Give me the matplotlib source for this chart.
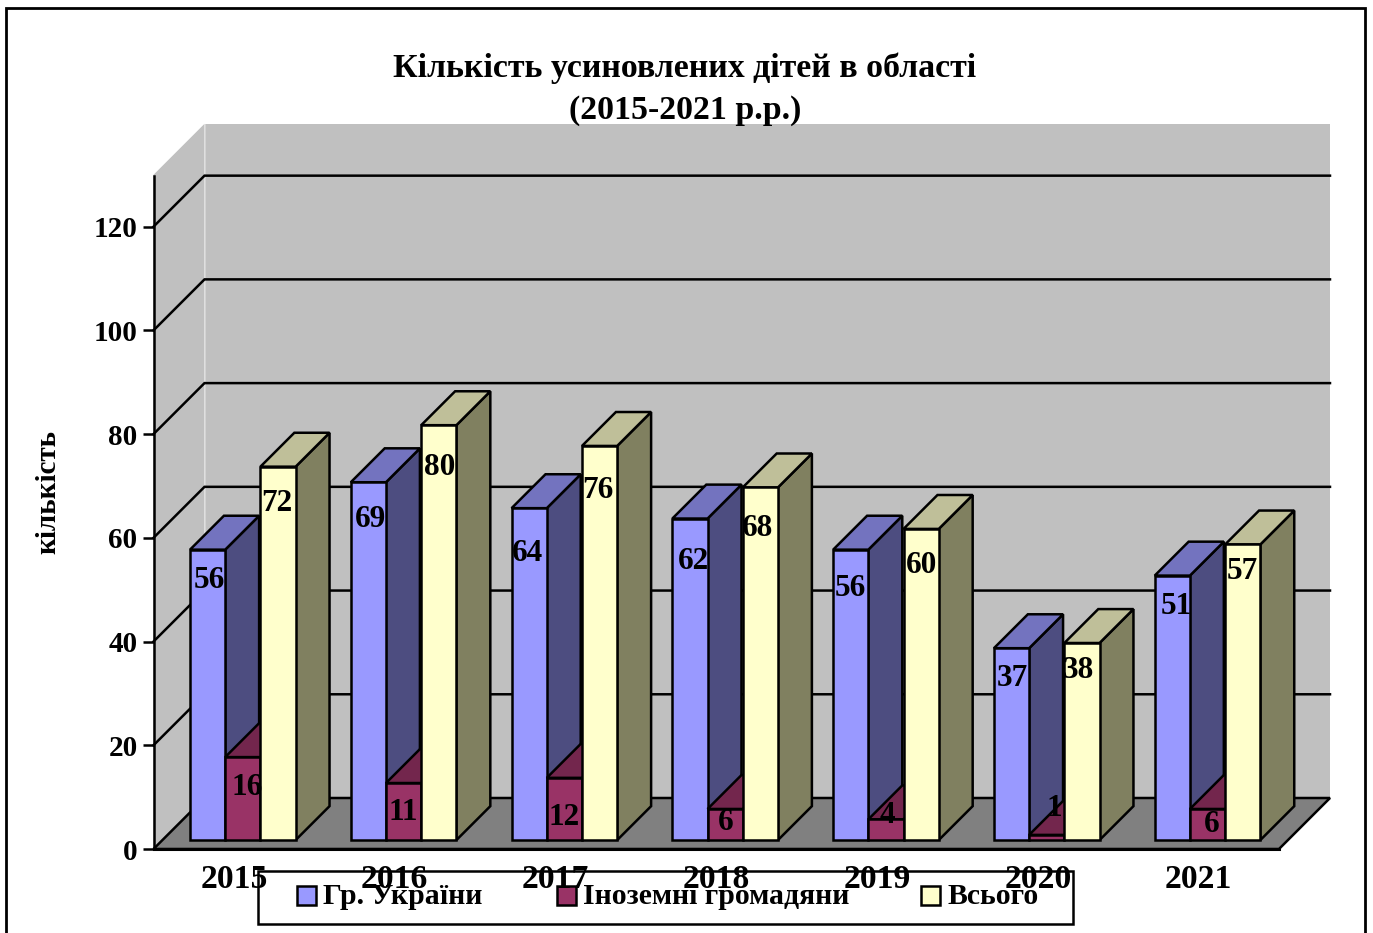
import matplotlib
matplotlib.use('Agg')
import matplotlib.pyplot as plt
from matplotlib.patches import Polygon, Rectangle

plt.rcParams['font.family'] = ['Liberation Serif', 'DejaVu Serif']
plt.rcParams['font.weight'] = 'bold'

W, H = 1373, 933

years = ['2015', '2016', '2017', '2018', '2019', '2020', '2021']
citizens = [56, 69, 64, 62, 56, 37, 51]
foreign = [16, 11, 12, 6, 4, 1, 6]
total = [72, 80, 76, 68, 60, 38, 57]
series_names = ['Гр. України', 'Іноземні громадяни', 'Всього']
y_ticks = [0, 20, 40, 60, 80, 100, 120]

# front, side, top colours of each series
face_colors = ['#9999FF', '#993366', '#FFFFCC']
side_colors = ['#4D4D80', '#73264D', '#808060']
top_colors = ['#7373BF', '#73264D', '#BFBF99']

# label offsets in pixels from the top middle of each bar front (right, down)
label_dx = [[2, 2, -2, 4, 0, 1, 4], [4, 0, 0, 1, 1, 8, 4], [-1, 1, -2, -3, 0, -4, 0]]
label_dy = [[31, 37, 45, 43, 39, 30, 31], [30, 29, 40, 14, -4, -26, 16], [37, 42, 45, 41, 37, 27, 27]]

fig = plt.figure(figsize=(W / 100, H / 100), dpi=100)
left, right, bottom, top = 153.5, 1279, 849, 174.8
ax = fig.add_axes([left / W, 1 - bottom / H, (right - left) / W, (bottom - top) / H])
ax.set_xlim(0, len(years))
ax.set_ylim(0, 130)
ax.patch.set_visible(False)

cat_px = (right - left) / len(years)
val_px = (bottom - top) / 130
depth_x = 51 / cat_px
depth_y = 51 / val_px
bar_w = 35.2 / cat_px
d0, d1 = 0.175, 0.84
line_w = 1.8


def pt(x, y, d):
    # front plane coordinates pushed back by the depth fraction d
    return (x + d * depth_x, y + d * depth_y)


def poly(points, color, edge='black', lw=line_w, z=2):
    ax.add_patch(Polygon(points, closed=True, facecolor=color, edgecolor=edge,
                         linewidth=lw, zorder=z, clip_on=False, joinstyle='miter'))


xmax = len(years)
# walls and floor
poly([pt(0, 0, 1), pt(xmax, 0, 1), pt(xmax, 130, 1), pt(0, 130, 1)], '#C0C0C0', edge='none', z=1)
poly([pt(0, 0, 0), pt(0, 0, 1), pt(0, 130, 1), pt(0, 130, 0)], '#C0C0C0', edge='none', z=1)
ax.plot([pt(0, 0, 1)[0]] * 2, [pt(0, 0, 1)[1], pt(0, 130, 1)[1]], color='#D4D4D4', lw=0.7, zorder=1, clip_on=False)
poly([pt(0, 0, 0), pt(xmax, 0, 0), pt(xmax, 0, 1), pt(0, 0, 1)], '#808080', z=1.2)

for v in y_ticks[1:]:
    xs, ys = zip(pt(0, v, 0), pt(0, v, 1), pt(xmax, v, 1))
    ax.plot(xs, ys, color='black', lw=line_w, zorder=1.1, clip_on=False, solid_joinstyle='miter')
ax.plot([0, 0], [0, pt(0, 120, 1)[1]], color='black', lw=line_w, zorder=1.3, clip_on=False)

# bars, left to right so each front hides the side of the previous one
all_series = [citizens, foreign, total]
for i in range(len(years)):
    start = i + 0.5 - 1.5 * bar_w
    for s, values in enumerate(all_series):
        v = values[i]
        x0 = start + s * bar_w
        x1 = x0 + bar_w
        poly([pt(x1, 0, d0), pt(x1, 0, d1), pt(x1, v, d1), pt(x1, v, d0)], side_colors[s])
        poly([pt(x0, v, d0), pt(x1, v, d0), pt(x1, v, d1), pt(x0, v, d1)], top_colors[s])
        poly([pt(x0, 0, d0), pt(x1, 0, d0), pt(x1, v, d0), pt(x0, v, d0)], face_colors[s])

for i in range(len(years)):
    start = i + 0.5 - 1.5 * bar_w
    for s, values in enumerate(all_series):
        xc = start + (s + 0.5) * bar_w
        ax.annotate(str(values[i]), xy=pt(xc, values[i], d0),
                    xytext=(label_dx[s][i] * 0.72, -label_dy[s][i] * 0.72),
                    textcoords='offset points', ha='center', va='center',
                    fontsize=22.5, fontweight='bold', zorder=5, annotation_clip=False)

for side in ['top', 'right', 'left']:
    ax.spines[side].set_visible(False)
ax.spines['bottom'].set_linewidth(2.2)
ax.spines['bottom'].set_zorder(3)

ax.set_yticks(y_ticks)
ax.set_yticklabels([str(v) for v in y_ticks])
ax.tick_params(axis='y', length=8, width=1.8, pad=3.5, labelsize=21)
ax.set_xticks([i + 0.5 for i in range(len(years))])
ax.set_xticklabels(years)
ax.tick_params(axis='x', length=0, pad=10.7, labelsize=24.2)

fig.text(48 / W, 1 - 492 / H, 'кількість', rotation=90, ha='center', va='center',
         fontsize=21, fontweight='bold')
fig.text(685 / W, 1 - 68 / H, 'Кількість усиновлених дітей в області', ha='center', va='center',
         fontsize=24.4, fontweight='bold')
fig.text(685 / W, 1 - 111 / H, '(2015-2021 р.р.)', ha='center', va='center',
         fontsize=24.4, fontweight='bold', zorder=6)


def frame_rect(x0, y0, x1, y1, face='none', lw=1.8, z=-1):
    fig.patches.append(Rectangle((x0 / W, 1 - y1 / H), (x1 - x0) / W, (y1 - y0) / H,
                                 transform=fig.transFigure, facecolor=face, edgecolor='black',
                                 linewidth=lw, zorder=z))
    fig.patches[-1].set_figure(fig)


# outer border runs past the bottom edge of the picture
frame_rect(5.5, 7.5, 1365, 945, lw=2)
frame_rect(258, 871, 1073, 924, face='white')
swatch_x = [297, 557, 921]
text_x = [323, 583, 948]
for name, sx, tx, color in zip(series_names, swatch_x, text_x, face_colors):
    frame_rect(sx, 886, sx + 19, 905, face=color)
    fig.text(tx / W, 1 - 897 / H, name, ha='left', va='center', fontsize=21.4, fontweight='bold', zorder=-1)

fig.savefig('out.png', dpi=100)
